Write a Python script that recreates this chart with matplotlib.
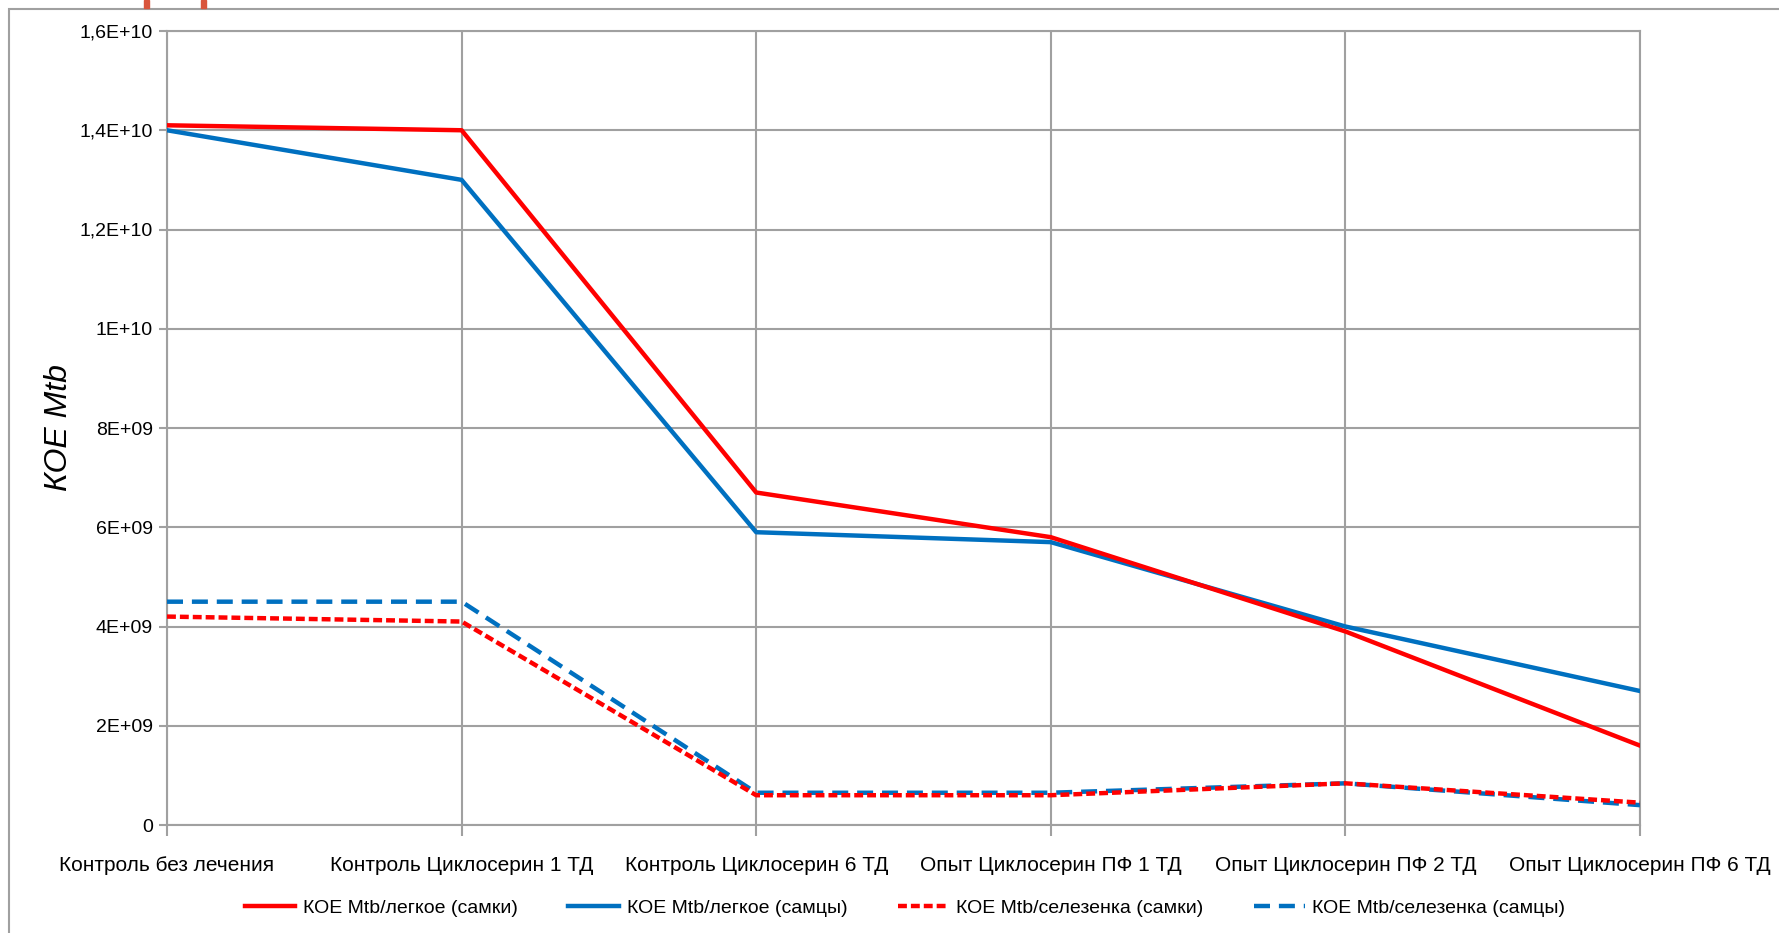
import matplotlib
matplotlib.use("Agg")
import matplotlib.pyplot as plt
from matplotlib.patches import Rectangle

categories = ["Контроль без лечения", "Контроль Циклосерин 1 ТД", "Контроль Циклосерин 6 ТД",
              "Опыт Циклосерин ПФ 1 ТД", "Опыт Циклосерин ПФ 2 ТД", "Опыт Циклосерин ПФ 6 ТД"]
lung_female = [1.41e10, 1.40e10, 6.7e9, 5.8e9, 3.9e9, 1.6e9]
lung_male = [1.40e10, 1.30e10, 5.9e9, 5.7e9, 4.0e9, 2.7e9]
spleen_female = [4.2e9, 4.1e9, 6.0e8, 6.0e8, 8.4e8, 4.5e8]
spleen_male = [4.5e9, 4.5e9, 6.5e8, 6.5e8, 8.4e8, 4.0e8]
series_names = ["КОЕ Mtb/легкое (самки)", "КОЕ Mtb/легкое (самцы)",
                "КОЕ Mtb/селезенка (самки)", "КОЕ Mtb/селезенка (самцы)"]
yticks = [0, 2e9, 4e9, 6e9, 8e9, 1e10, 1.2e10, 1.4e10, 1.6e10]
ytick_labels = ["0", "2E+09", "4E+09", "6E+09", "8E+09", "1E+10", "1,2E+10", "1,4E+10", "1,6E+10"]

plt.rcParams["font.family"] = ["Liberation Sans", "DejaVu Sans"]

RED = "#ff0000"
BLUE = "#0070c0"
GRID = "#a0a0a0"

fig = plt.figure(figsize=(17.79, 9.33), dpi=100)
ax = fig.add_axes([167 / 1779, 1 - 825 / 933, (1640 - 167) / 1779, (825 - 31) / 933])

x = list(range(len(categories)))
ax.plot(x, lung_female, color=RED, lw=3.2, label=series_names[0], zorder=4)
ax.plot(x, lung_male, color=BLUE, lw=3.2, label=series_names[1], zorder=3)
ax.plot(x, spleen_female, color=RED, lw=3.2, ls=(0, (2.0, 0.9)), label=series_names[2], zorder=4)
ax.plot(x, spleen_male, color=BLUE, lw=3.2, ls=(0, (3.6, 2.0)), label=series_names[3], zorder=3)

ax.set_xlim(0, 5)
ax.set_ylim(0, 1.6e10)
ax.set_yticks(yticks)
ax.set_yticklabels(ytick_labels, fontsize=14)
ax.set_xticks(x)
ax.set_xticklabels(categories, fontsize=15)
ax.grid(True, color=GRID, lw=1.5)
ax.set_axisbelow(True)
for s in ax.spines.values():
    s.set_color(GRID)
    s.set_linewidth(1.5)
ax.tick_params(axis="y", length=6, color=GRID, width=1.5, pad=4)
ax.tick_params(axis="x", length=8, color=GRID, width=1.5, pad=14)
ax.set_ylabel("КОЕ Mtb", fontsize=23, style="italic", labelpad=4)

fig.legend(loc="center", bbox_to_anchor=(905 / 1779, 1 - 908 / 933), ncol=4,
           frameon=False, fontsize=14, handlelength=2.6, handletextpad=0.4, columnspacing=2.6)

# outer chart frame and slide marks
fig.patches.append(Rectangle((9 / 1779, -0.1), 1.2, 1 - 9 / 933 + 0.1, transform=fig.transFigure,
                             fill=False, ec=GRID, lw=1.5))
fig.patches.append(Rectangle((144 / 1779, 1 - 8 / 933), 5 / 1779, 8 / 933, transform=fig.transFigure,
                             color="#d9553c"))
fig.patches.append(Rectangle((201 / 1779, 1 - 8 / 933), 5 / 1779, 8 / 933, transform=fig.transFigure,
                             color="#d9553c"))

fig.savefig("out.png", dpi=100)
